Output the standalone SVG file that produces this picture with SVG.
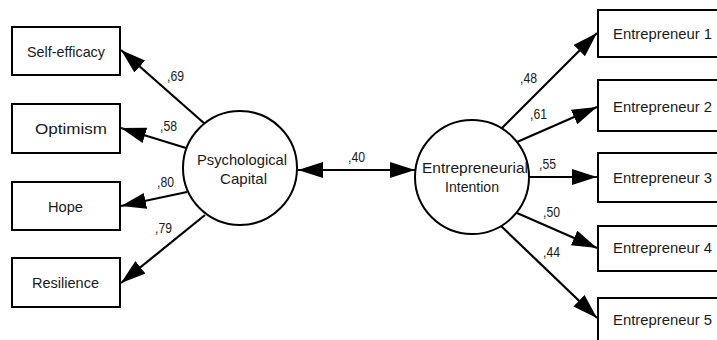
<svg xmlns="http://www.w3.org/2000/svg" width="717" height="340" viewBox="0 0 717 340">
<style>
.box{fill:#fff;stroke:#000;stroke-width:2}
.lat{fill:#fff;stroke:#000;stroke-width:2}
.t{font-family:"Liberation Sans",Arial,sans-serif;font-size:15px;fill:#1a1a1a}
.n{font-family:"Liberation Sans",Arial,sans-serif;font-size:15px;fill:#1a1a1a}
.e{stroke:#000;stroke-width:2.2;fill:none;marker-end:url(#ah)}
</style>
<defs>
<marker id="ah" markerUnits="userSpaceOnUse" markerWidth="26" markerHeight="18" refX="25" refY="8" orient="auto-start-reverse">
<path d="M0,0 L25,8 L0,16 z" fill="#000"/>
</marker>
</defs>
<rect width="717" height="340" fill="#fff"/>
<g id="connectors">
<line class="e" x1="205" y1="124" x2="121" y2="50"/>
<line class="e" x1="186" y1="148" x2="121" y2="128"/>
<line class="e" x1="187" y1="192" x2="121" y2="206"/>
<line class="e" x1="205" y1="215" x2="121" y2="283"/>
<line class="e" x1="500" y1="130" x2="597" y2="33"/>
<line class="e" x1="517" y1="142" x2="597" y2="107"/>
<line class="e" x1="529" y1="177" x2="597" y2="177"/>
<line class="e" x1="517" y1="213" x2="597" y2="248"/>
<line class="e" x1="500" y1="225" x2="597" y2="318"/>
<line class="e" x1="298" y1="170" x2="415" y2="170" marker-start="url(#ah)"/>
<text class="n" x="167" y="81" textLength="17" lengthAdjust="spacingAndGlyphs">,69</text>
<text class="n" x="160" y="131" textLength="17" lengthAdjust="spacingAndGlyphs">,58</text>
<text class="n" x="157" y="187" textLength="17" lengthAdjust="spacingAndGlyphs">,80</text>
<text class="n" x="155" y="233" textLength="17" lengthAdjust="spacingAndGlyphs">,79</text>
<text class="n" x="348" y="162" textLength="17" lengthAdjust="spacingAndGlyphs">,40</text>
<text class="n" x="520" y="83" textLength="17" lengthAdjust="spacingAndGlyphs">,48</text>
<text class="n" x="530" y="119" textLength="17" lengthAdjust="spacingAndGlyphs">,61</text>
<text class="n" x="539" y="169" textLength="17" lengthAdjust="spacingAndGlyphs">,55</text>
<text class="n" x="543" y="217" textLength="17" lengthAdjust="spacingAndGlyphs">,50</text>
<text class="n" x="543" y="257" textLength="17" lengthAdjust="spacingAndGlyphs">,44</text>
</g>
<g id="self-efficacy"><rect class="box" x="12" y="27" width="108" height="48"/><text class="t" x="27" y="57" textLength="78" lengthAdjust="spacingAndGlyphs">Self-efficacy</text></g>
<g id="optimism"><rect class="box" x="12" y="104" width="108" height="49"/><text class="t" x="35" y="134" textLength="72" lengthAdjust="spacingAndGlyphs">Optimism</text></g>
<g id="hope"><rect class="box" x="12" y="182" width="108" height="48"/><text class="t" x="48" y="212" textLength="35" lengthAdjust="spacingAndGlyphs">Hope</text></g>
<g id="resilience"><rect class="box" x="12" y="258" width="108" height="49"/><text class="t" x="32" y="288" textLength="67" lengthAdjust="spacingAndGlyphs">Resilience</text></g>
<g id="psychological-capital"><circle class="lat" cx="240" cy="168" r="57"/><text class="t" x="197" y="165" textLength="90" lengthAdjust="spacingAndGlyphs">Psychological</text><text class="t" x="220" y="184" textLength="47" lengthAdjust="spacingAndGlyphs">Capital</text></g>
<g id="entrepreneurial-intention"><circle class="lat" cx="472" cy="177" r="57"/><text class="t" x="422" y="173" textLength="106" lengthAdjust="spacingAndGlyphs">Entrepreneurial</text><text class="t" x="445" y="192" textLength="54" lengthAdjust="spacingAndGlyphs">Intention</text></g>
<g id="entrepreneur-1"><rect class="box" x="598" y="10" width="125" height="47"/><text class="t" x="613" y="39" textLength="99" lengthAdjust="spacingAndGlyphs">Entrepreneur 1</text></g>
<g id="entrepreneur-2"><rect class="box" x="598" y="80" width="125" height="51"/><text class="t" x="613" y="112" textLength="99" lengthAdjust="spacingAndGlyphs">Entrepreneur 2</text></g>
<g id="entrepreneur-3"><rect class="box" x="598" y="153" width="125" height="49"/><text class="t" x="613" y="183" textLength="99" lengthAdjust="spacingAndGlyphs">Entrepreneur 3</text></g>
<g id="entrepreneur-4"><rect class="box" x="598" y="226" width="125" height="45"/><text class="t" x="613" y="253" textLength="99" lengthAdjust="spacingAndGlyphs">Entrepreneur 4</text></g>
<g id="entrepreneur-5"><rect class="box" x="598" y="298" width="125" height="50"/><text class="t" x="613" y="325" textLength="99" lengthAdjust="spacingAndGlyphs">Entrepreneur 5</text></g>
</svg>
